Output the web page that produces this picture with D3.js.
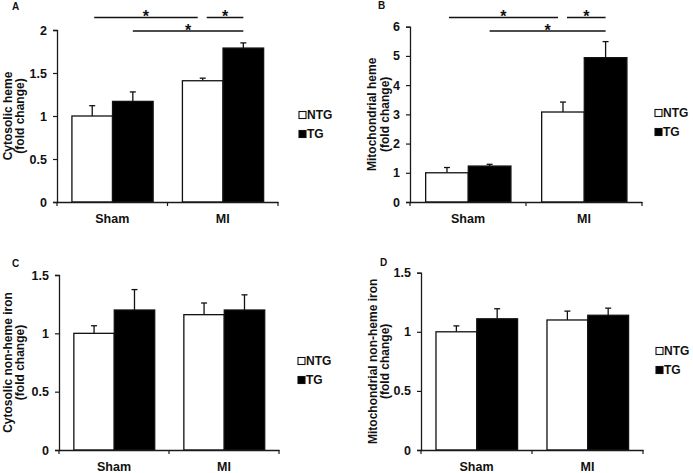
<!DOCTYPE html>
<html><head><meta charset="utf-8">
<script src="https://cdn.jsdelivr.net/npm/d3@7"></script>
<style>
body{margin:0;background:#fff;}
text{font-family:"Liberation Sans",Arial,sans-serif;font-weight:bold;fill:#111;}
</style></head>
<body><svg id="c" width="693" height="473"></svg>
<script>
// ---- data ----
const categories = ["Sham", "MI"];
const seriesNames = ["NTG", "TG"];

const cytoHemeNTG = [1.00, 1.41];
const cytoHemeNTGErr = [0.12, 0.03];
const cytoHemeTG = [1.17, 1.79];
const cytoHemeTGErr = [0.11, 0.06];
const cytoHemeTicks = [0, 0.5, 1, 1.5, 2];

const mitoHemeNTG = [1.00, 3.08];
const mitoHemeNTGErr = [0.18, 0.34];
const mitoHemeTG = [1.23, 4.94];
const mitoHemeTGErr = [0.06, 0.55];
const mitoHemeTicks = [0, 1, 2, 3, 4, 5, 6];

const cytoIronNTG = [1.00, 1.16];
const cytoIronNTGErr = [0.065, 0.10];
const cytoIronTG = [1.20, 1.20];
const cytoIronTGErr = [0.175, 0.13];
const ironTicks = [0, 0.5, 1, 1.5];

const mitoIronNTG = [1.00, 1.10];
const mitoIronNTGErr = [0.05, 0.075];
const mitoIronTG = [1.11, 1.14];
const mitoIronTGErr = [0.085, 0.06];

// significance brackets: [fromCategory, fromSeries, toCategory, toSeries, row]
const sigBrackets = [["Sham","NTG","MI","NTG",0],["MI","NTG","MI","TG",0],["Sham","TG","MI","TG",1]];

const panels = [
  {label:"A", title:["Cytosolic heme","(fold change)"], ntg:cytoHemeNTG, ntgErr:cytoHemeNTGErr, tg:cytoHemeTG, tgErr:cytoHemeTGErr, ticks:cytoHemeTicks, sig:true,
   x0:57, x1:278, yTop:30, yBot:202, lx:12, ly:10, t1:8, t2:20, legX:299, legY:115, sigY:[17.5,31]},
  {label:"B", title:["Mitochondrial heme","(fold change)"], ntg:mitoHemeNTG, ntgErr:mitoHemeNTGErr, tg:mitoHemeTG, tgErr:mitoHemeTGErr, ticks:mitoHemeTicks, sig:true,
   x0:410, x1:642, yTop:26.7, yBot:202, lx:378, ly:9, t1:372, t2:385, legX:655, legY:113, sigY:[17.5,31]},
  {label:"C", title:["Cytosolic non-heme iron","(fold change)"], ntg:cytoIronNTG, ntgErr:cytoIronNTGErr, tg:cytoIronTG, tgErr:cytoIronTGErr, ticks:ironTicks, sig:false,
   x0:59, x1:279, yTop:275, yBot:450, lx:12, ly:267, t1:8, t2:20, legX:298, legY:361},
  {label:"D", title:["Mitochondrial non-heme iron","(fold change)"], ntg:mitoIronNTG, ntgErr:mitoIronNTGErr, tg:mitoIronTG, tgErr:mitoIronTGErr, ticks:ironTicks, sig:false,
   x0:421, x1:643, yTop:272.7, yBot:450, lx:380, ly:266, t1:373, t2:385, legX:656, legY:351}
];

const svg = d3.select("#c");
const axisColor = "#1a1a1a";

panels.forEach(p => {
  const g = svg.append("g");
  const ymax = p.ticks[p.ticks.length-1];
  const y = d3.scaleLinear().domain([0, ymax]).range([p.yBot, p.yTop]);
  const x = d3.scaleBand().domain(categories).range([p.x0, p.x1]).paddingInner(0).paddingOuter(0);
  const bw = x.bandwidth();
  const xs = d3.scaleBand().domain(seriesNames).range([bw*0.135, bw*0.87]).padding(0);

  const rows = categories.map((c,i) => [
    {cat:c, s:"NTG", v:p.ntg[i], e:p.ntgErr[i]},
    {cat:c, s:"TG", v:p.tg[i], e:p.tgErr[i]}
  ]).flat();

  // error bars (upward only)
  rows.forEach(d => {
    const cx = x(d.cat) + xs(d.s) + xs.bandwidth()/2;
    g.append("line").attr("x1",cx).attr("x2",cx).attr("y1",y(d.v)).attr("y2",y(d.v+d.e))
      .attr("stroke","#111").attr("stroke-width",1.3);
    g.append("line").attr("x1",cx-3).attr("x2",cx+3).attr("y1",y(d.v+d.e)).attr("y2",y(d.v+d.e))
      .attr("stroke","#111").attr("stroke-width",1.3);
  });

  // bars
  g.selectAll("rect.bar").data(rows).join("rect").attr("class","bar")
    .attr("x", d => x(d.cat) + xs(d.s))
    .attr("width", xs.bandwidth())
    .attr("y", d => y(d.v))
    .attr("height", d => y(0) - y(d.v))
    .attr("fill", d => d.s === "NTG" ? "#fff" : "#000")
    .attr("stroke", "#111").attr("stroke-width", 1.3);

  // y axis
  const ya = d3.axisLeft(y).tickValues(p.ticks).tickSize(4).tickPadding(6).tickFormat(d3.format("~g"));
  const yg = g.append("g").attr("transform", `translate(${p.x0},0)`).call(ya);
  yg.select(".domain").attr("stroke", axisColor).attr("stroke-width", 1.3);
  yg.selectAll(".tick line").attr("stroke", axisColor).attr("stroke-width", 1.2);
  yg.selectAll(".tick text").style("font-size","12.5px").style("font-weight","bold")
    .style("font-family","'Liberation Sans',Arial,sans-serif").attr("fill","#111");

  // x axis
  const xa = d3.axisBottom(x).tickSize(0).tickPadding(12);
  const xg = g.append("g").attr("transform", `translate(0,${p.yBot})`).call(xa);
  xg.select(".domain").attr("stroke", axisColor).attr("stroke-width", 1.3);
  xg.selectAll(".tick text").style("font-size","12.5px").style("font-weight","bold")
    .style("font-family","'Liberation Sans',Arial,sans-serif").attr("fill","#111");
  // boundary ticks
  const bounds = categories.map(c => x(c)).concat([x(categories[categories.length-1]) + bw]);
  bounds.forEach(bx => {
    g.append("line").attr("x1",bx).attr("x2",bx).attr("y1",p.yBot).attr("y2",p.yBot+4)
      .attr("stroke",axisColor).attr("stroke-width",1.2);
  });

  // y title
  const midY = (p.yTop + p.yBot)/2;
  [p.t1, p.t2].forEach((tx, i) => {
    g.append("text").attr("transform", `translate(${tx},${midY}) rotate(-90)`)
      .attr("text-anchor","middle").attr("dominant-baseline","central")
      .style("font-size","12px").text(p.title[i]);
  });

  // panel label
  g.append("text").attr("x", p.lx).attr("y", p.ly).style("font-size","10px").text(p.label);

  // legend
  seriesNames.forEach((s, i) => {
    const cy = p.legY + i*19;
    g.append("rect").attr("x", p.legX).attr("y", cy-3.5).attr("width",7).attr("height",7)
      .attr("fill", s === "NTG" ? "#fff" : "#000").attr("stroke","#111").attr("stroke-width",1.1);
    g.append("text").attr("x", p.legX+8).attr("y", cy).attr("dominant-baseline","central")
      .style("font-size","12px").text(s);
  });

  // significance brackets
  if (p.sig) {
    const cx = (c, s) => x(c) + xs(s) + xs.bandwidth()/2;
    sigBrackets.forEach((b, i) => {
      let xa1 = cx(b[0], b[1]), xa2 = cx(b[2], b[3]);
      if (i === 0) { xa1 += 2; xa2 -= 5; }
      if (i === 1) { xa1 += 4; }
      const ly = p.sigY[b[4]];
      g.append("line").attr("x1",xa1).attr("x2",xa2).attr("y1",ly).attr("y2",ly)
        .attr("stroke","#111").attr("stroke-width",1.4);
      g.append("text").attr("x",(xa1+xa2)/2).attr("y",ly+4.5).attr("text-anchor","middle")
        .style("font-size","16px").text("*");
    });
  }
});
</script></body></html>
